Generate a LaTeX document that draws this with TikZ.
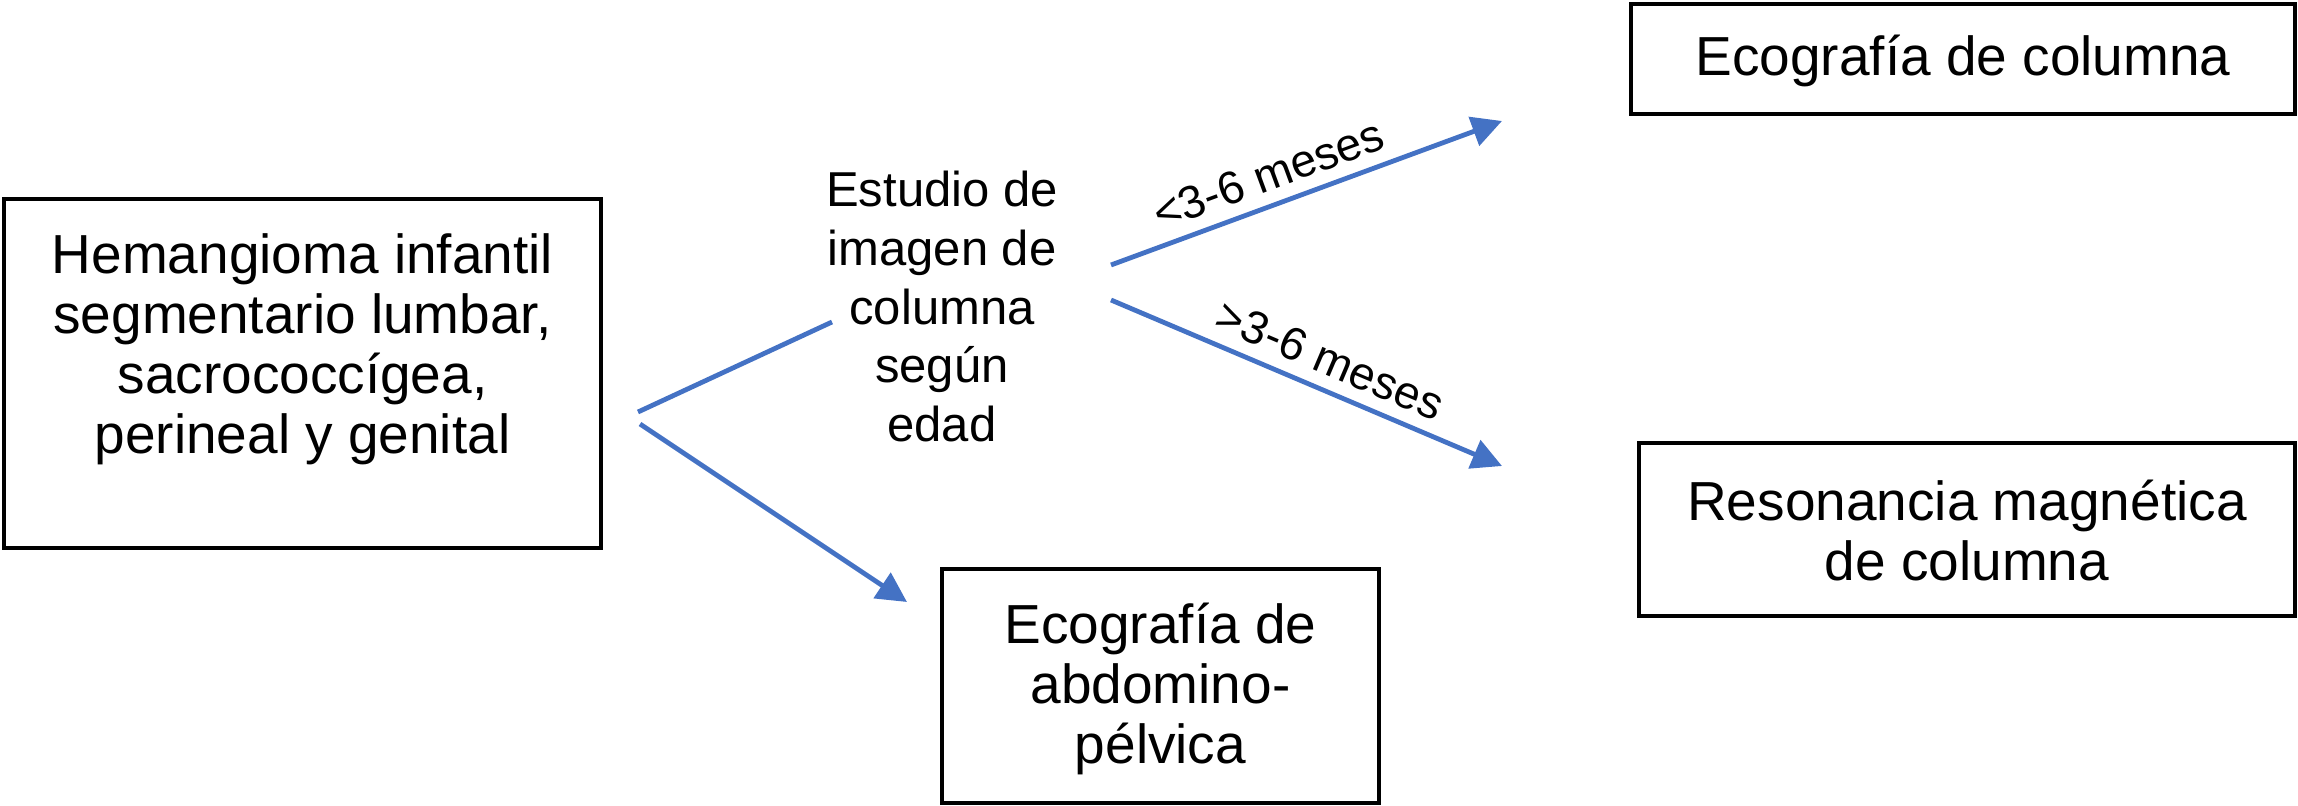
\documentclass[tikz,border=0pt]{standalone}
\usepackage{fontspec}
\setmainfont{Liberation Sans}
\usetikzlibrary{arrows.meta,calc}
\definecolor{lineblue}{HTML}{4472C4}
\begin{document}
\begin{tikzpicture}[x=0.5pt,y=-0.5pt,
  box/.style={draw=black, line width=2pt, inner sep=0pt},
  bigtxt/.style={align=center, inner sep=0pt, font=\fontsize{27.5}{30}\selectfont},
  midtxt/.style={align=center, inner sep=0pt, font=\fontsize{24.5}{29.3}\selectfont},
  conn/.style={draw=lineblue, line width=2.4pt},
  arr/.style={conn, -{Triangle[length=15pt,width=15pt]}},
  lbl/.style={font=\fontsize{23}{27}\selectfont, sloped, above=6pt, inner sep=0pt},
]
\useasboundingbox (0,0) rectangle (2298,806);

% boxes
\node[box, minimum width=298.5pt, minimum height=174.5pt] (hem) at (302.5,373.5) {};
\node[bigtxt] (hemtxt) at (302.5,349) {Hemangioma infantil\\segmentario lumbar,\\sacrococcígea,\\perineal y genital};

\node[box, minimum width=332pt, minimum height=55pt] (eco1) at (1963,59) {};
\node[bigtxt] (eco1txt) at (1963,61) {Ecografía de columna};

\node[box, minimum width=328pt, minimum height=86.5pt] (rm) at (1967,529.5) {};
\node[bigtxt] (rmtxt) at (1967,531) {Resonancia magnética\\de columna};

\node[box, minimum width=218.5pt, minimum height=117pt] (eco2) at (1160.5,686) {};
\node[bigtxt] (eco2txt) at (1160.5,689) {Ecografía de\\abdomino-\\pélvica};

% middle text
\node[midtxt] (est) at (942,306.5) {Estudio de\\imagen de\\columna\\según\\edad};

% connector end points
\coordinate (c1s) at (638,412);
\coordinate (c1e) at (832,322);
\coordinate (c2s) at (640,424);
\coordinate (c2e) at (907,602);
\coordinate (c3s) at (1111,265);
\coordinate (c3e) at (1502,121);
\coordinate (c4s) at (1111,300);
\coordinate (c4e) at (1502,466);

\draw[conn] (c1s) -- (c1e);
\draw[arr] (c2s) -- (c2e);
\draw[arr] (c3s) -- node[lbl, pos=0.43] {<3-6 meses} (c3e);
\draw[arr] (c4s) -- node[lbl, pos=0.53] {>3-6 meses} (c4e);
\end{tikzpicture}
\end{document}
